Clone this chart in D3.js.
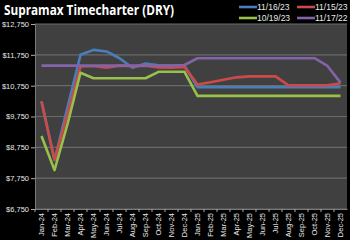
<!DOCTYPE html>
<html>
<head>
<meta charset="utf-8">
<script src="https://cdn.jsdelivr.net/npm/d3@7"></script>
<style>
  body { margin: 0; background: #000; }
  svg { display: block; }
</style>
</head>
<body>
<svg id="canvas" width="350" height="240"></svg>
<script>
const months = ["Jan-24", "Feb-24", "Mar-24", "Apr-24", "May-24", "Jun-24", "Jul-24", "Aug-24",
  "Sep-24", "Oct-24", "Nov-24", "Dec-24", "Jan-25", "Feb-25", "Mar-25", "Apr-25", "May-25",
  "Jun-25", "Jul-25", "Aug-25", "Sep-25", "Oct-25", "Nov-25", "Dec-25"];

const yTicks = [6750, 7750, 8750, 9750, 10750, 11750, 12750];

const seriesNames = ["11/16/23", "11/15/23", "10/19/23", "11/17/22"];

const blue = [10240, 8340, 10050, 11750, 11910, 11860, 11640, 11330, 11470, 11410, 11400, 11400,
  10700, 10700, 10700, 10700, 10700, 10700, 10700, 10700, 10700, 10700, 10700, 10700];
const red = [10240, 8340, 9830, 11370, 11390, 11330, 11400, 11380, 11400, 11340, 11330, 11360,
  10790, 10860, 10940, 11020, 11050, 11050, 11050, 10760, 10760, 10760, 10760, 10830];
const green = [9120, 8010, 9500, 11170, 10990, 10990, 10990, 10990, 10990, 11200, 11200, 11200,
  10420, 10420, 10420, 10420, 10420, 10420, 10420, 10420, 10420, 10420, 10420, 10420];
const purple = [11400, 11400, 11400, 11400, 11400, 11400, 11400, 11400, 11400, 11400, 11400, 11420,
  11640, 11640, 11640, 11640, 11640, 11640, 11640, 11640, 11640, 11640, 11390, 10850];

const allSeries = [blue, red, green, purple];
const colors = ["#4a7ebb", "#cd4a4a", "#98c04a", "#8264a8"];

const canvas = d3.select("#canvas");

const plotLeft = 35, plotRight = 347, plotTop = 24, plotBottom = 209;

const x = d3.scaleBand().domain(months).range([plotLeft, plotRight]);
const y = d3.scaleLinear().domain([6750, 12750]).range([plotBottom, plotTop]);

// plot area
canvas.append("rect")
  .attr("x", plotLeft).attr("y", plotTop)
  .attr("width", plotRight - plotLeft).attr("height", plotBottom - plotTop)
  .attr("fill", "#404040");

// gridlines
canvas.selectAll(".grid")
  .data(yTicks)
  .enter()
  .append("line")
  .attr("x1", plotLeft).attr("x2", plotRight)
  .attr("y1", (d) => y(d)).attr("y2", (d) => y(d))
  .attr("stroke", "#6a6a6a")
  .attr("stroke-width", 1.2);

// y axis
const yAxis = canvas.append("g")
  .attr("transform", `translate(${plotLeft},0)`)
  .call(d3.axisLeft(y).tickValues(yTicks).tickSize(4).tickPadding(2)
    .tickFormat((d) => "$" + d3.format(",")(d)));
yAxis.select(".domain").attr("stroke", "#7a7a7a");
yAxis.selectAll(".tick line").attr("stroke", "#aaa");
yAxis.selectAll("text")
  .attr("fill", "#e8e8e8")
  .style("font-family", "'Liberation Sans', sans-serif")
  .style("font-size", "7.5px");

// x axis
const xAxis = canvas.append("g")
  .attr("transform", `translate(0,${plotBottom})`)
  .call(d3.axisBottom(x).tickSize(0).tickPadding(3));
xAxis.select(".domain").attr("stroke", "#7a7a7a");
xAxis.selectAll("text")
  .attr("fill", "#e8e8e8")
  .attr("transform", "rotate(-90)")
  .attr("text-anchor", "end")
  .attr("dy", "0.32em")
  .attr("x", -4)
  .attr("y", 0)
  .style("font-family", "'Liberation Sans', sans-serif")
  .style("font-size", "7.5px");

// boundary ticks between categories
canvas.selectAll(".xtick")
  .data(months)
  .enter()
  .append("line")
  .attr("x1", (d) => x(d)).attr("x2", (d) => x(d))
  .attr("y1", plotBottom).attr("y2", plotBottom + 3)
  .attr("stroke", "#aaa");

// lines
const line = d3.line()
  .x((d, i) => x(months[i]) + x.bandwidth() / 2)
  .y((d) => y(d));

canvas.selectAll(".series")
  .data(allSeries)
  .enter()
  .append("path")
  .attr("d", (d) => line(d))
  .attr("fill", "none")
  .attr("stroke", (d, i) => colors[i])
  .attr("stroke-width", 2.6)
  .attr("stroke-linejoin", "round");

// title
canvas.append("text")
  .text("Supramax Timecharter (DRY)")
  .attr("x", 4)
  .attr("y", 15)
  .attr("fill", "#fff")
  .style("font-family", "'Open Sans', sans-serif")
  .style("font-weight", "bold")
  .style("font-size", "13.5px")
  .attr("textLength", 170)
  .attr("lengthAdjust", "spacingAndGlyphs");

// legend
const legendPos = [[239, 7], [297, 7], [239, 18], [297, 18]];
const legend = canvas.selectAll(".legend")
  .data(seriesNames)
  .enter()
  .append("g")
  .attr("transform", (d, i) => `translate(${legendPos[i][0]},${legendPos[i][1]})`);

legend.append("line")
  .attr("x1", 0).attr("x2", 18)
  .attr("stroke", (d, i) => colors[i])
  .attr("stroke-width", 2.6);

legend.append("text")
  .text((d) => d)
  .attr("x", 18)
  .attr("y", 3)
  .attr("fill", "#e8e8e8")
  .style("font-family", "'Liberation Sans', sans-serif")
  .style("font-size", "8.5px");
</script>
</body>
</html>
